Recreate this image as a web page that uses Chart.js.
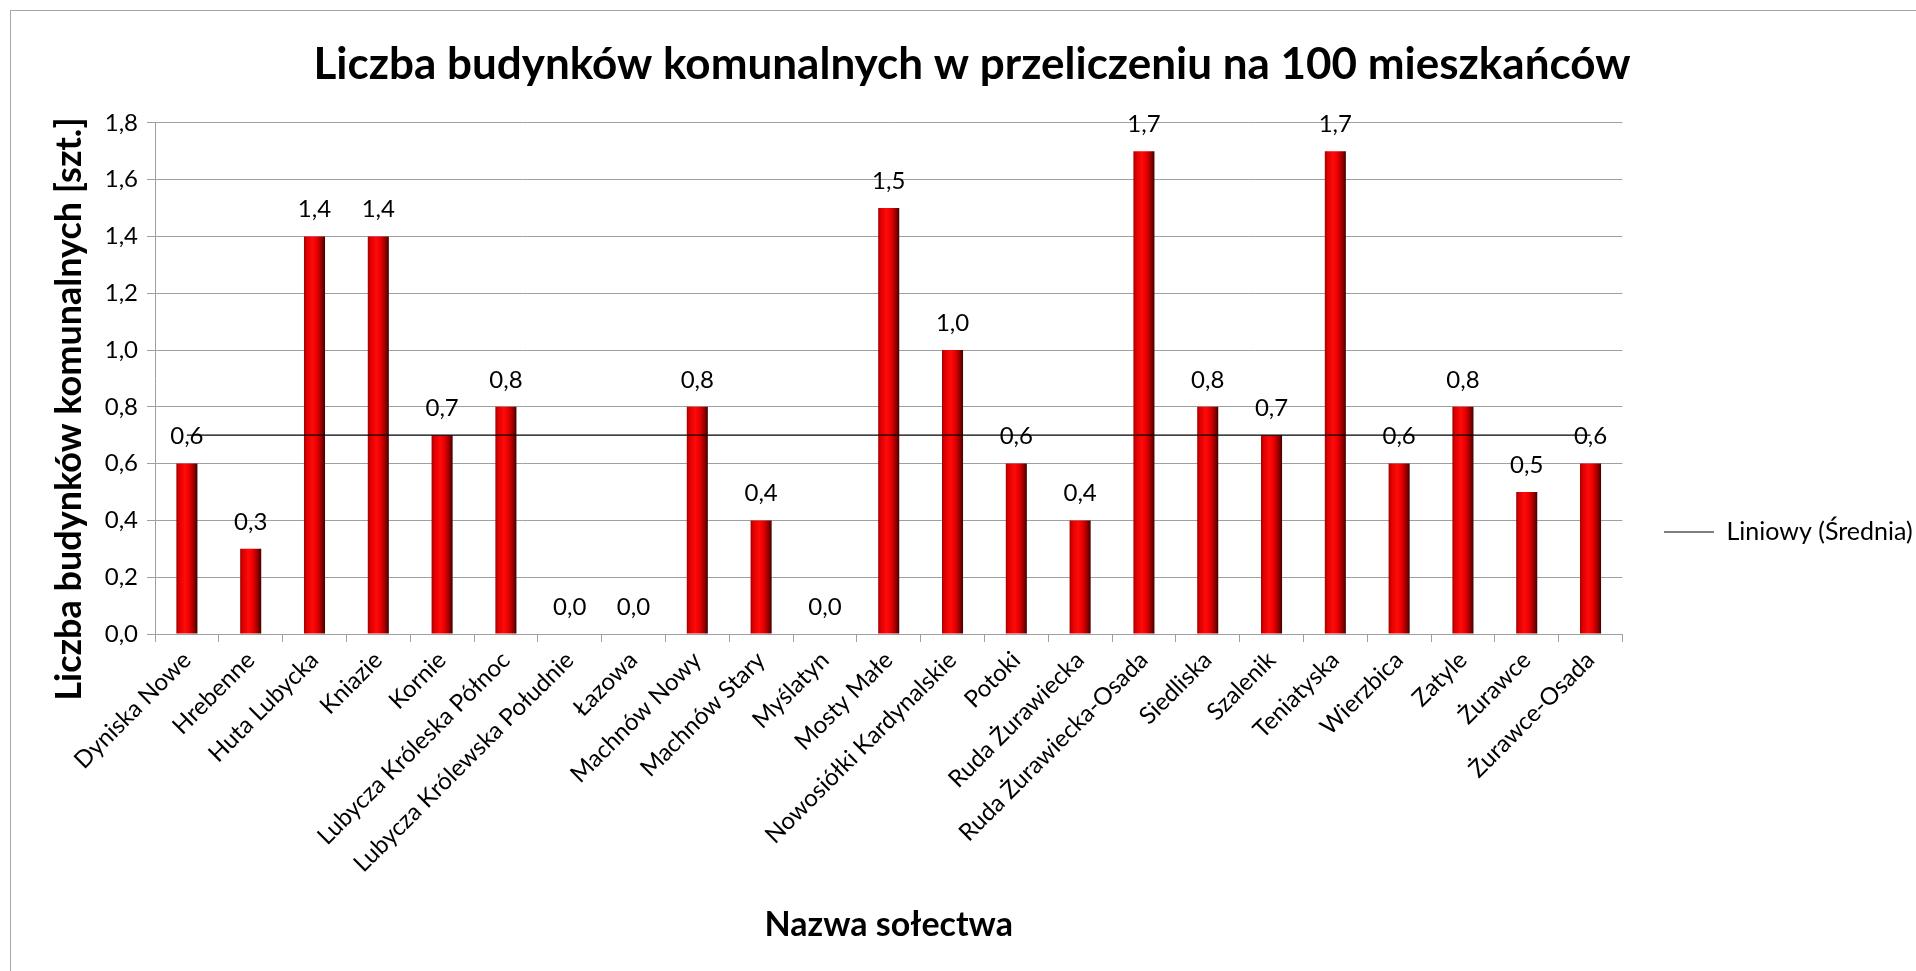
<!DOCTYPE html>
<html>
<head>
<meta charset="utf-8">
<script src="https://cdn.jsdelivr.net/npm/chart.js@4.4.1/dist/chart.umd.min.js"></script>
<style>
  html, body { margin: 0; padding: 0; background: #fff; overflow: hidden; }
  #wrap { position: relative; width: 1916px; height: 971px; }
  #frame { position: absolute; left: 10px; top: 10px; width: 2000px; height: 2000px;
           border: 1px solid #a6a6a6; box-sizing: border-box; pointer-events: none; }
  canvas { position: absolute; left: 0; top: 0; }
</style>
</head>
<body>
<div id="wrap">
  <canvas id="myChart" width="1916" height="971"></canvas>
  <div id="frame"></div>
</div>
<script>
'use strict';

// data
let villageNames = ['Dyniska Nowe', 'Hrebenne', 'Huta Lubycka', 'Kniazie', 'Kornie',
  'Lubycza Króleska Północ', 'Lubycza Królewska Południe', 'Łazowa', 'Machnów Nowy',
  'Machnów Stary', 'Myślatyn', 'Mosty Małe', 'Nowosiółki Kardynalskie', 'Potoki',
  'Ruda Żurawiecka', 'Ruda Żurawiecka-Osada', 'Siedliska', 'Szalenik', 'Teniatyska',
  'Wierzbica', 'Zatyle', 'Żurawce', 'Żurawce-Osada'];
let buildingsPer100 = [0.6, 0.3, 1.4, 1.4, 0.7, 0.8, 0.0, 0.0, 0.8, 0.4, 0.0, 1.5,
  1.0, 0.6, 0.4, 1.7, 0.8, 0.7, 1.7, 0.6, 0.8, 0.5, 0.6];
let averageLine = [0.7, 0.7, 0.7, 0.7, 0.7, 0.7, 0.7, 0.7, 0.7, 0.7, 0.7, 0.7,
  0.7, 0.7, 0.7, 0.7, 0.7, 0.7, 0.7, 0.7, 0.7, 0.7, 0.7];
let yMin = 0;
let yMax = 1.8;
let yStep = 0.2;

let chartTitle = 'Liczba budynków komunalnych w przeliczeniu na 100 mieszkańców';
let xTitle = 'Nazwa sołectwa';
// trailing spaces push the rotated title a little lower, as in the original
let yTitle = 'Liczba budynków komunalnych [szt.]       ';
let lineLabel = 'Liniowy (Średnia)';

let fontFamily = 'Lato, "Open Sans", sans-serif';
let gridColor = '#a0a0a0';
let barShare = 0.33;

// legend placement (left end of the line sample, vertical centre)
let legendX = 1664;
let legendY = 532;
// main title sits a bit right of the canvas centre
let titleShift = 21;

function formatPl(v) {
  return Number(v).toFixed(1).replace('.', ',');
}

function barGradient(context) {
  let chart = context.chart;
  let xScale = chart.scales.x;
  if (!xScale || !chart.chartArea) {
    return '#e00000';
  }
  let cx = xScale.getPixelForValue(context.dataIndex);
  let half = xScale.width / villageNames.length * barShare / 2;
  let g = chart.ctx.createLinearGradient(cx - half, 0, cx + half, 0);
  g.addColorStop(0, '#a00000');
  g.addColorStop(0.12, '#dc0000');
  g.addColorStop(0.4, '#ff0a0a');
  g.addColorStop(0.62, '#e80000');
  g.addColorStop(0.85, '#900000');
  g.addColorStop(1, '#400000');
  return g;
}

// value labels above the bars
let valueLabels = {
  id: 'valueLabels',
  afterDatasetsDraw(chart) {
    let meta = chart.getDatasetMeta(0);
    let ctx = chart.ctx;
    ctx.save();
    ctx.font = '24px ' + fontFamily;
    ctx.fillStyle = '#000';
    ctx.textAlign = 'center';
    ctx.textBaseline = 'middle';
    meta.data.forEach(function (bar, i) {
      ctx.fillText(formatPl(buildingsPer100[i]), bar.x, bar.y - 27);
    });
    ctx.restore();
  }
};

// move the legend and title to where the reference has them
let boxPlace = {
  id: 'boxPlace',
  afterLayout(chart) {
    let lg = chart.legend;
    if (lg) {
      let dx = legendX - (lg.left + 10);
      let dy = legendY - (lg.top + lg.bottom) / 2;
      lg.left += dx;
      lg.right += dx;
      lg.top += dy;
      lg.bottom += dy;
    }
    let tb = chart.titleBlock;
    if (tb) {
      tb.left += titleShift;
      tb.right += titleShift;
    }
  }
};

let chartObject = {
  type: 'bar',
  data: {
    labels: villageNames,
    datasets: [{
      label: 'Liczba budynków',
      data: buildingsPer100,
      backgroundColor: barGradient,
      borderWidth: 0,
      barPercentage: barShare,
      categoryPercentage: 1,
      order: 1
    },
    {
      type: 'line',
      label: lineLabel,
      data: averageLine,
      borderColor: '#000',
      borderWidth: 1.3,
      pointRadius: 0,
      pointHoverRadius: 0,
      pointStyle: 'line',
      pointBorderColor: '#000',
      pointBorderWidth: 1,
      fill: false,
      order: 0
    }]
  },
  options: {
    responsive: false,
    animation: false,
    layout: {
      padding: { left: 11, top: 0, right: 25, bottom: 0 }
    },
    plugins: {
      title: {
        display: true,
        text: chartTitle,
        color: '#000',
        font: { family: fontFamily, size: 44, weight: 'bold', lineHeight: 1.2 },
        padding: { top: 38, bottom: 32 }
      },
      legend: {
        position: 'right',
        labels: {
          filter: function (item) { return item.datasetIndex === 1; },
          usePointStyle: true,
          pointStyleWidth: 50,
          boxWidth: 50,
          padding: 10,
          color: '#000',
          font: { family: fontFamily, size: 25 }
        }
      },
      tooltip: { enabled: false }
    },
    scales: {
      x: {
        grid: { drawOnChartArea: false, color: gridColor, tickLength: 8, offset: true },
        border: { color: gridColor },
        ticks: {
          autoSkip: false,
          minRotation: 45,
          maxRotation: 45,
          padding: 4,
          color: '#000',
          font: { family: fontFamily, size: 24 }
        },
        title: {
          display: true,
          text: xTitle,
          color: '#000',
          font: { family: fontFamily, size: 34, weight: 'bold', lineHeight: 1.2 },
          padding: { top: 0, bottom: 26 }
        },
        afterFit: function (scale) { scale.height = 337; }
      },
      y: {
        min: yMin,
        max: yMax,
        grid: { color: gridColor, tickLength: 8 },
        border: { color: gridColor },
        ticks: {
          stepSize: yStep,
          padding: 9,
          color: '#000',
          font: { family: fontFamily, size: 24 },
          callback: function (v) { return formatPl(v); }
        },
        title: {
          display: true,
          text: yTitle,
          color: '#000',
          font: { family: fontFamily, size: 36, weight: 'bold', lineHeight: 1.2 },
          padding: { top: 37, bottom: 0 }
        },
        afterFit: function (scale) { scale.width = 144; }
      }
    }
  },
  plugins: [valueLabels, boxPlace]
};

let ctx = document.getElementById('myChart').getContext('2d');
let myChart = new Chart(ctx, chartObject);
</script>
</body>
</html>
